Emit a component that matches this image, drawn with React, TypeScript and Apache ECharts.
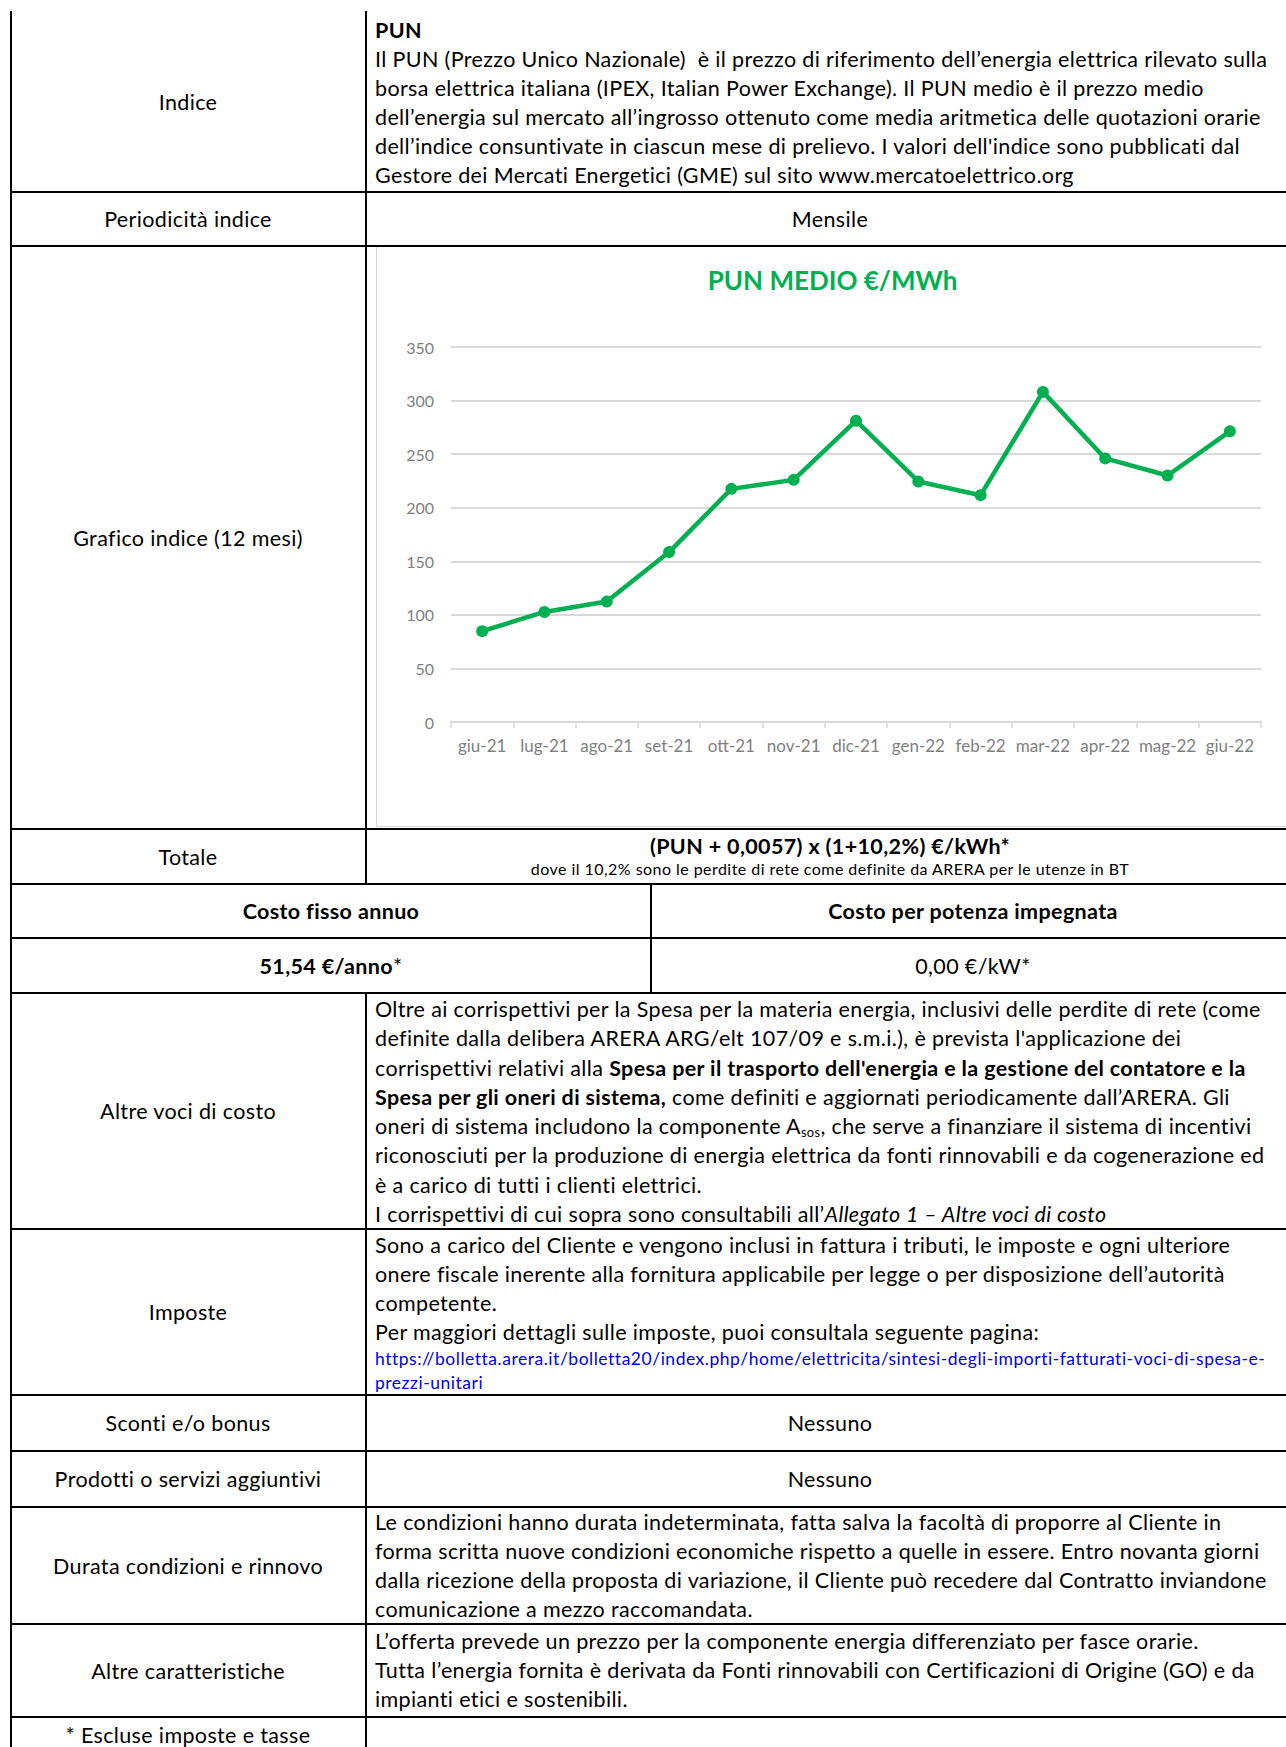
import React, { useEffect, useRef } from "react";
import * as echarts from "echarts";

// ---- chart data ----
const months = ["giu-21", "lug-21", "ago-21", "set-21", "ott-21", "nov-21", "dic-21", "gen-22", "feb-22", "mar-22", "apr-22", "mag-22", "giu-22"];
const punValues = [84.8, 102.7, 112.4, 158.6, 217.6, 226.0, 281.2, 224.5, 211.7, 308.1, 246.0, 230.1, 271.3];
const yTickValues = [0, 50, 100, 150, 200, 250, 300, 350];
const chartTitle = "PUN MEDIO €/MWh";

const GREEN = "#00b050";
const FONT = "Lato, 'Noto Sans', sans-serif";
const FS = 21.5;
const LS = "0.36px";
const LH = 29.2;

type Seg = string | { t: string; b?: boolean; i?: boolean; sub?: boolean };

const indiceLines: Seg[][] = [
  [{ t: "PUN", b: true }],
  ["Il PUN (Prezzo Unico Nazionale)  è il prezzo di riferimento dell’energia elettrica rilevato sulla"],
  ["borsa elettrica italiana (IPEX, Italian Power Exchange). Il PUN medio è il prezzo medio"],
  ["dell’energia sul mercato all’ingrosso ottenuto come media aritmetica delle quotazioni orarie"],
  ["dell’indice consuntivate in ciascun mese di prelievo. I valori dell'indice sono pubblicati dal"],
  ["Gestore dei Mercati Energetici (GME) sul sito www.mercatoelettrico.org"],
];

const altreVociLines: Seg[][] = [
  ["Oltre ai corrispettivi per la Spesa per la materia energia, inclusivi delle perdite di rete (come"],
  ["definite dalla delibera ARERA ARG/elt 107/09 e s.m.i.), è prevista l'applicazione dei"],
  ["corrispettivi relativi alla ", { t: "Spesa per il trasporto dell'energia e la gestione del contatore e la", b: true }],
  [{ t: "Spesa per gli oneri di sistema,", b: true }, " come definiti e aggiornati periodicamente dall’ARERA. Gli"],
  ["oneri di sistema includono la componente A", { t: "sos", sub: true }, ", che serve a finanziare il sistema di incentivi"],
  ["riconosciuti per la produzione di energia elettrica da fonti rinnovabili e da cogenerazione ed"],
  ["è a carico di tutti i clienti elettrici."],
  ["I corrispettivi di cui sopra sono consultabili all’", { t: "Allegato 1 – Altre voci di costo", i: true }],
];

const imposteLines: Seg[][] = [
  ["Sono a carico del Cliente e vengono inclusi in fattura i tributi, le imposte e ogni ulteriore"],
  ["onere fiscale inerente alla fornitura applicabile per legge o per disposizione dell’autorità"],
  ["competente."],
  ["Per maggiori dettagli sulle imposte, puoi consultala seguente pagina:"],
];
const linkLines = [
  "https://bolletta.arera.it/bolletta20/index.php/home/elettricita/sintesi-degli-importi-fatturati-voci-di-spesa-e-",
  "prezzi-unitari",
];

const durataLines: Seg[][] = [
  ["Le condizioni hanno durata indeterminata, fatta salva la facoltà di proporre al Cliente in"],
  ["forma scritta nuove condizioni economiche rispetto a quelle in essere. Entro novanta giorni"],
  ["dalla ricezione della proposta di variazione, il Cliente può recedere dal Contratto inviandone"],
  ["comunicazione a mezzo raccomandata."],
];

const altreCarLines: Seg[][] = [
  ["L’offerta prevede un prezzo per la componente energia differenziato per fasce orarie."],
  ["Tutta l’energia fornita è derivata da Fonti rinnovabili con Certificazioni di Origine (GO) e da"],
  ["impianti etici e sostenibili."],
];

function renderSeg(s: Seg, k: number) {
  if (typeof s === "string") return <span key={k}>{s}</span>;
  if (s.sub) return <sub key={k} style={{ fontSize: "0.6em", verticalAlign: "-0.25em", lineHeight: 0 }}>{s.t}</sub>;
  return (
    <span key={k} style={{ fontWeight: s.b ? 700 : 400, fontStyle: s.i ? "italic" : "normal" }}>
      {s.t}
    </span>
  );
}

function Block({ left, top, lines, lh = LH, fs = FS, color = "#000" }: { left: number; top: number; lines: Seg[][]; lh?: number; fs?: number; color?: string }) {
  return (
    <div style={{ position: "absolute", left, top, fontFamily: FONT, fontSize: fs, color, letterSpacing: LS }}>
      {lines.map((l, i) => (
        <div key={i} style={{ whiteSpace: "pre", height: lh, lineHeight: lh + "px" }}>
          {l.map(renderSeg)}
        </div>
      ))}
    </div>
  );
}

function Center({ x1, x2, y1, y2, children, fs = FS, bold = false }: { x1: number; x2: number; y1: number; y2: number; children: React.ReactNode; fs?: number; bold?: boolean }) {
  return (
    <div
      style={{
        position: "absolute",
        left: x1,
        top: y1,
        width: x2 - x1,
        height: y2 - y1,
        display: "flex",
        flexDirection: "column",
        alignItems: "center",
        justifyContent: "center",
        fontFamily: FONT,
        fontSize: fs,
        fontWeight: bold ? 700 : 400,
        whiteSpace: "nowrap",
        letterSpacing: LS,
        color: "#000",
      }}
    >
      {children}
    </div>
  );
}

function HLine({ y, x1 = 10, x2 = 1286 }: { y: number; x1?: number; x2?: number }) {
  return <div style={{ position: "absolute", left: x1, top: y - 1, width: x2 - x1, height: 2, background: "#000" }} />;
}
function VLine({ x, y1, y2 }: { x: number; y1: number; y2: number }) {
  return <div style={{ position: "absolute", left: x - 1, top: y1, width: 2, height: y2 - y1, background: "#000" }} />;
}

function PunChart() {
  const ref = useRef<HTMLDivElement>(null);
  useEffect(() => {
    if (!ref.current) return;
    const chart = echarts.init(ref.current, undefined, { renderer: "svg" });
    const gray = "#d9d9d9";
    chart.setOption({
      animation: false,
      title: {
        text: chartTitle,
        left: "center",
        top: 15,
        textStyle: { color: GREEN, fontSize: 26, fontWeight: "bold", fontFamily: FONT },
      },
      grid: { left: 74, top: 100, width: 810, height: 375 },
      xAxis: {
        type: "category",
        data: months,
        boundaryGap: true,
        axisLine: { lineStyle: { color: gray, width: 2 } },
        axisTick: { show: true, length: 6, lineStyle: { color: gray, width: 1.5 } },
        axisLabel: { color: "#7f7f7f", fontSize: 17, fontFamily: FONT, margin: 15, interval: 0 },
      },
      yAxis: {
        type: "value",
        min: yTickValues[0],
        max: yTickValues[yTickValues.length - 1],
        interval: yTickValues[1] - yTickValues[0],
        axisLine: { show: false },
        axisTick: { show: false },
        splitLine: { lineStyle: { color: gray, width: 2 } },
        axisLabel: { color: "#7f7f7f", fontSize: 16, fontFamily: FONT, margin: 17 },
      },
      series: [
        {
          type: "line",
          data: punValues,
          symbol: "circle",
          symbolSize: 12,
          lineStyle: { color: GREEN, width: 4.5 },
          itemStyle: { color: GREEN },
        },
      ],
    });
    return () => chart.dispose();
  }, []);
  return <div ref={ref} style={{ width: 911, height: 579 }} />;
}

export default function App() {
  return (
    <div style={{ position: "absolute", left: 0, top: 0, width: 1286, height: 1747, overflow: "hidden", background: "#fff" }}>
      {/* chart */}
      <div style={{ position: "absolute", left: 376, top: 247, borderLeft: "1px solid #d9d9d9", borderBottom: "1px solid #d9d9d9" }}>
        <PunChart />
      </div>

      {/* left labels */}
      <Center x1={11} x2={365} y1={11} y2={192}>Indice</Center>
      <Center x1={11} x2={365} y1={192} y2={246}>Periodicità indice</Center>
      <Center x1={11} x2={365} y1={246} y2={829}>Grafico indice (12 mesi)</Center>
      <Center x1={11} x2={365} y1={829} y2={884}>Totale</Center>
      <Center x1={11} x2={365} y1={993} y2={1229}>Altre voci di costo</Center>
      <Center x1={11} x2={365} y1={1229} y2={1395}>Imposte</Center>
      <Center x1={11} x2={365} y1={1395} y2={1451}>Sconti e/o bonus</Center>
      <Center x1={11} x2={365} y1={1451} y2={1507}>Prodotti o servizi aggiuntivi</Center>
      <Center x1={11} x2={365} y1={1507} y2={1624}>Durata condizioni e rinnovo</Center>
      <Center x1={11} x2={365} y1={1624} y2={1717}>Altre caratteristiche</Center>
      <Center x1={11} x2={365} y1={1721} y2={1749}>* Escluse imposte e tasse</Center>

      {/* right contents */}
      <Block left={375} top={15.5} lines={indiceLines} lh={29.1} />
      <Center x1={365} x2={1295} y1={192} y2={246}>Mensile</Center>
      <Center x1={365} x2={1295} y1={829} y2={884}>
        <div style={{ fontWeight: 700, lineHeight: "24px" }}>(PUN + 0,0057) x (1+10,2%) €/kWh*</div>
        <div style={{ fontSize: 16, lineHeight: "21px", letterSpacing: "0.45px" }}>dove il 10,2% sono le perdite di rete come definite da ARERA per le utenze in BT</div>
      </Center>
      <Center x1={11} x2={651} y1={884} y2={938} bold>Costo fisso annuo</Center>
      <Center x1={651} x2={1295} y1={884} y2={938} bold>Costo per potenza impegnata</Center>
      <Center x1={11} x2={651} y1={938} y2={993}>
        <span><b>51,54 €/anno</b>*</span>
      </Center>
      <Center x1={651} x2={1295} y1={938} y2={993}>0,00 €/kW*</Center>
      <Block left={375} top={995} lines={altreVociLines} lh={29.3} />
      <Block left={375} top={1230.5} lines={imposteLines} lh={29} />
      <div style={{ position: "absolute", left: 375, top: 1346.5, fontFamily: FONT, fontSize: 17.5, letterSpacing: "0.52px", color: "#0000ee" }}>
        {linkLines.map((l, i) => (
          <div key={i} style={{ whiteSpace: "nowrap", height: 24.4, lineHeight: "24.4px" }}>{l}</div>
        ))}
      </div>
      <Center x1={365} x2={1295} y1={1395} y2={1451}>Nessuno</Center>
      <Center x1={365} x2={1295} y1={1451} y2={1507}>Nessuno</Center>
      <Block left={375} top={1507.5} lines={durataLines} lh={29} />
      <Block left={375} top={1627} lines={altreCarLines} lh={29} />

      {/* borders */}
      <VLine x={11} y1={11} y2={1747} />
      <VLine x={365.5} y1={11} y2={884} />
      <VLine x={365.5} y1={993} y2={1747} />
      <VLine x={651} y1={884} y2={993} />
      {[192, 246, 829, 884, 938, 993, 1229, 1395, 1451, 1507, 1624, 1717].map((y) => (
        <HLine key={y} y={y} />
      ))}
    </div>
  );
}
